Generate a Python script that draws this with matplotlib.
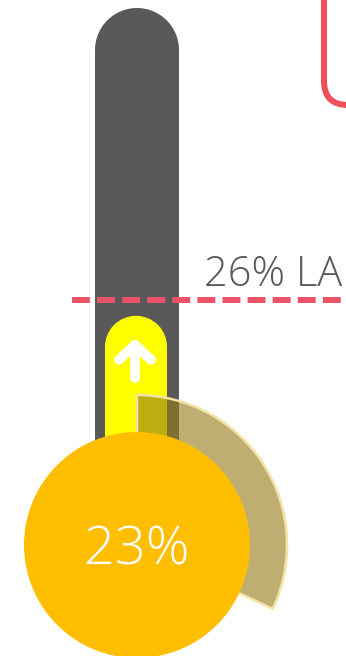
import matplotlib
matplotlib.use('Agg')
import matplotlib.pyplot as plt
from matplotlib.patches import FancyBboxPatch, Circle, Wedge, Rectangle

plt.rcParams['font.family'] = ['Open Sans', 'DejaVu Sans']

# data
value_pct = 23          # current level
target_pct = 26         # LA threshold
scale_max = 80          # top of the tube
arc_pct = 32            # share shown by the outer arc
value_label = f'{value_pct}%'
target_label = f'{target_pct}% LA'

W, H = 346, 656
fig = plt.figure(figsize=(W / 100, H / 100), dpi=100)
ax = fig.add_axes([0, 0, 1, 1])
ax.set_xlim(0, W)
ax.set_ylim(H, 0)
ax.set_aspect('equal')
ax.axis('off')

# pixel geometry
y_zero = 440
px_per_pct = 5.4
cx, cy, r_bulb = 137, 545, 113


def ypos(pct):
    return y_zero - pct * px_per_pct


def rounded_bar(x0, x1, top, color, z):
    r = (x1 - x0) / 2
    ax.add_patch(Rectangle((x0, top + r), x1 - x0, cy - top - r, fc=color, ec='none', zorder=z))
    ax.add_patch(Circle((x0 + r, top + r), r, fc=color, ec='none', zorder=z))


# tube and mercury
rounded_bar(95, 179, ypos(scale_max), '#595959', 1)
rounded_bar(105, 167, ypos(value_pct), '#FFFF00', 2)

# arrow
lw_arrow = 7
top_arrow = ypos(value_pct) + 29
ax.plot([135, 135], [top_arrow, top_arrow + 33], color='white', lw=lw_arrow,
        solid_capstyle='round', zorder=3)
ax.plot([119, 135, 151], [top_arrow + 15, top_arrow, top_arrow + 15], color='white',
        lw=lw_arrow, solid_capstyle='round', solid_joinstyle='round', zorder=3)

# outer arc (y axis inverted, so angles are mirrored)
sweep = arc_pct / 100 * 360
arc = Wedge((cx, cy), 150, -90, -90 + sweep, width=45, fc=(0.60, 0.49, 0.10, 0.62),
            ec='#F3E3A6', lw=1.8, zorder=4)
ax.add_patch(arc)

# bulb
ax.add_patch(Circle((cx, cy), r_bulb, fc='#FFBE00', ec='none', zorder=5))
ax.text(cx, cy + 6, value_label, color='white', fontsize=39, fontweight='light',
        ha='center', va='center', zorder=6)

# target line
ty = ypos(target_pct)
ax.plot([72, W + 5], [ty, ty], color='#EB5468', lw=4.3, dashes=(3, 1.2),
        dash_capstyle='butt', zorder=7)
ax.text(342, ty - 14, target_label, color='#595959', fontsize=30, fontweight='light',
        ha='right', va='baseline', zorder=7)

# box edge at top right, with a soft shadow
for i, a in enumerate([0.05, 0.08, 0.12]):
    sh = FancyBboxPatch((324, -60), 100, 164 + 7 - i * 2, boxstyle='round,pad=0,rounding_size=24',
                        fc='none', ec=(0, 0, 0, a), lw=3, zorder=8)
    ax.add_patch(sh)
box = FancyBboxPatch((324, -60), 100, 165, boxstyle='round,pad=0,rounding_size=24',
                     fc='white', ec='#F04E58', lw=4.3, zorder=9)
ax.add_patch(box)

fig.savefig('out.png', dpi=100)
